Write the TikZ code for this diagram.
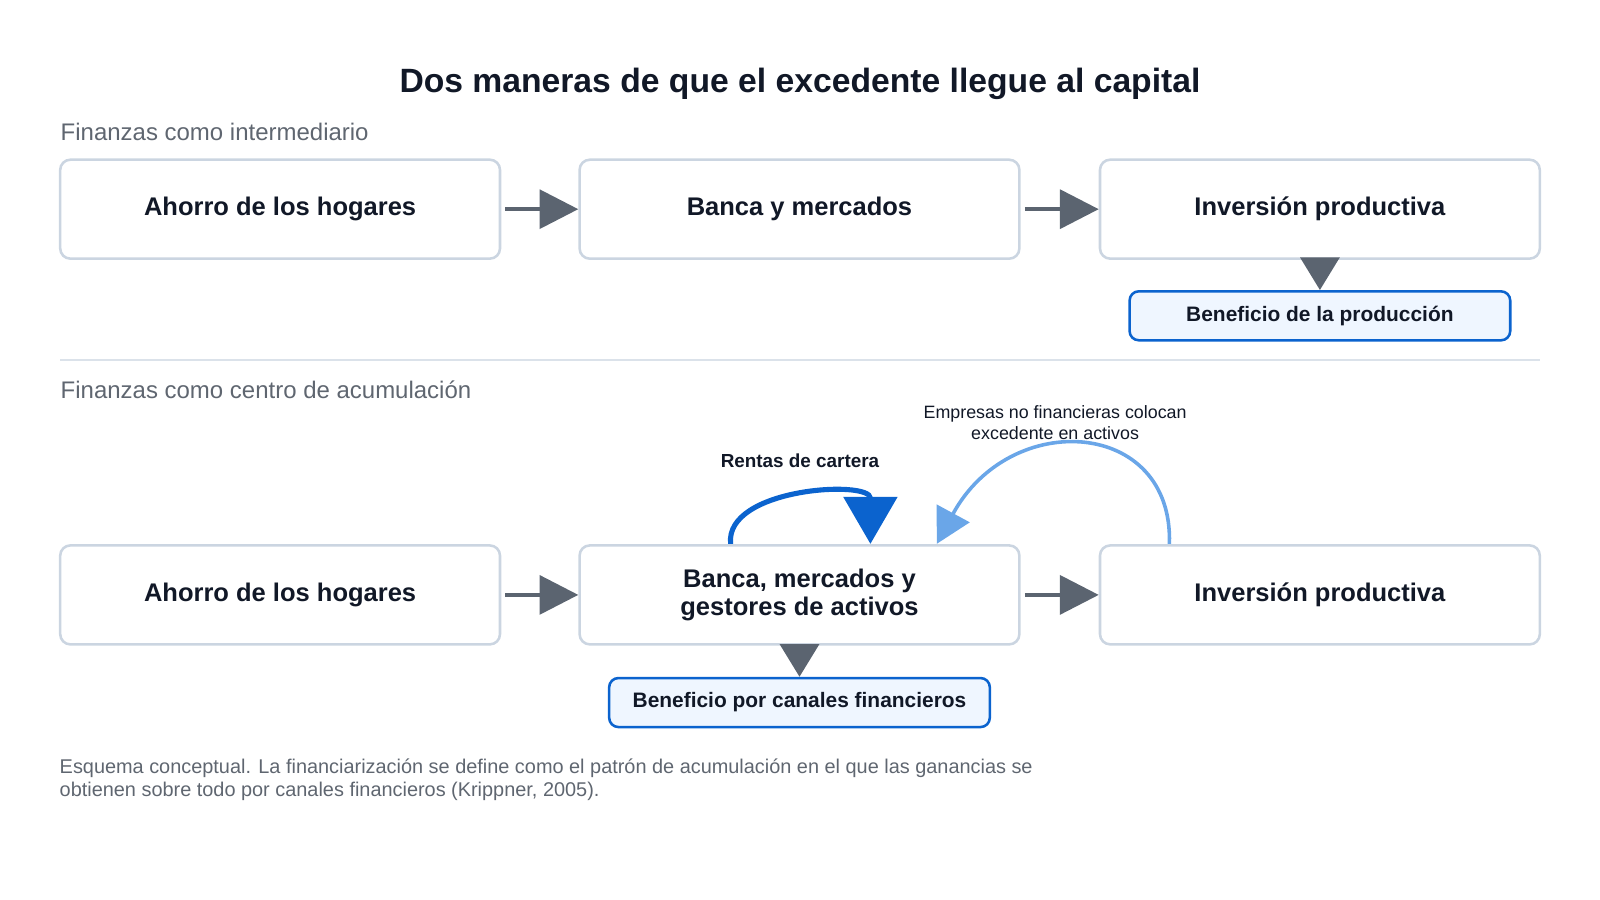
\documentclass[tikz,border=0pt]{standalone}
\usepackage{fontspec}
\setmainfont{Liberation Sans}
\usetikzlibrary{arrows.meta,positioning}
\definecolor{ink}{HTML}{111827}
\definecolor{boxline}{HTML}{CBD5E1}
\definecolor{arrowgray}{HTML}{5B6470}
\definecolor{labelgray}{HTML}{5F6670}
\definecolor{blueline}{HTML}{0B63CE}
\definecolor{lightblue}{HTML}{6AA6E8}
\definecolor{bluefill}{HTML}{EFF6FF}
\tikzset{
    stage/.style={draw=boxline, line width=2.5pt, rounded corners=10pt, fill=white,
        minimum width=431pt, minimum height=97pt, align=center, text=ink,
        font=\fontsize{25}{28}\selectfont\bfseries},
    profit/.style={draw=blueline, line width=2.5pt, rounded corners=9pt, fill=bluefill,
        minimum width=373pt, minimum height=48pt, text=ink,
        font=\fontsize{20.5}{24}\selectfont\bfseries},
    flow/.style={draw=arrowgray, line width=4pt, -{Triangle[length=38pt,width=38pt]}},
    drop/.style={draw=arrowgray, line width=4pt, -{Triangle[length=32pt,width=38pt]}},
    section/.style={anchor=west, text=labelgray, font=\fontsize{23.5}{27}\selectfont},
}
\begin{document}
\begin{tikzpicture}[x=1pt,y=-1pt]
        \useasboundingbox (0,0) rectangle (1568,882);

        % Title
        \node[text=ink, font=\fontsize{33}{38}\selectfont\bfseries] (title) at (784,82)
            {Dos maneras de que el excedente llegue al capital};

        % Finance as intermediary
        \node[section] (secA) at (56,129) {Finanzas como intermediario};
        \node[stage] (saveA) at (274.5,205) {Ahorro de los hogares};
        \node[stage] (bankA) at (783.5,205) {Banca y mercados};
        \node[stage] (investA) at (1293.5,205) {Inversión productiva};
        \node[profit] (profitA) at (1293.5,309.5) {Beneficio de la producción};
        \draw[flow] ([xshift=4pt]saveA.east) -- (bankA.west);
        \draw[flow] ([xshift=4pt]bankA.east) -- (investA.west);
        \draw[drop] (investA.south) -- (profitA.north);

        % Separator
        \draw[draw=boxline!70, line width=1.5pt] (59,353) -- (1509,353);

        % Finance as centre of accumulation
        \node[section] (secB) at (56,382) {Finanzas como centro de acumulación};
        \node[stage] (saveB) at (274.5,583) {Ahorro de los hogares};
        \node[stage] (bankB) at (783.5,583) {Banca, mercados y\\gestores de activos};
        \node[stage] (investB) at (1293.5,583) {Inversión productiva};
        \node[profit] (profitB) at (783.5,688.5) {Beneficio por canales financieros};
        \draw[flow] ([xshift=4pt]saveB.east) -- (bankB.west);
        \draw[flow] ([xshift=4pt]bankB.east) -- (investB.west);
        \draw[drop] (bankB.south) -- (profitB.north);

        % Loops above the financial box
        \coordinate (loopIn) at (716,533);
        \coordinate (loopOut) at (853,533);
        \draw[blueline, line width=5pt, -{Triangle[length=46pt,width=52pt]}]
            (loopIn) .. controls (710,478) and (853,470) .. (loopOut);
        \node[text=ink, font=\fontsize{18.5}{22}\selectfont\bfseries] (rentas) at (784,452)
            {Rentas de cartera};

        \coordinate (placeOut) at (1146,533);
        \coordinate (placeIn) at (918,533);
        \draw[lightblue, line width=3.5pt, -{Triangle[length=34pt,width=36pt]}]
            (placeOut) .. controls (1150,410) and (990,400) .. (placeIn);
        \node[text=ink, align=center, font=\fontsize{17.5}{21}\selectfont] (empresas) at (1034,414)
            {Empresas no financieras colocan\\excedente en activos};

        % Footnote
        \node[anchor=north west, text=labelgray, align=left, font=\fontsize{19.5}{23}\selectfont]
            (note) at (55,740)
            {Esquema conceptual. La financiarización se define como el patrón de acumulación en el que las ganancias se\\
             obtienen sobre todo por canales financieros (Krippner, 2005).};
\end{tikzpicture}
\end{document}
